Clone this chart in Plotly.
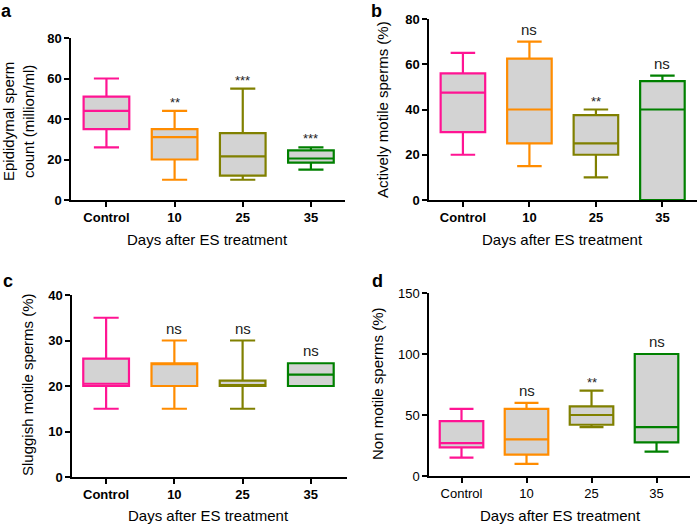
import plotly.graph_objects as go

# ---- data ----
GROUPS = ['Control', '10', '25', '35']
COLORS = ['#FF1493', '#FF8C00', '#808000', '#008000']

# panel a: epididymal sperm count (million/ml)
a_low = [26, 10, 10, 15]
a_q1 = [35, 20, 12, 18.5]
a_med = [44, 31, 21.5, 20.5]
a_q3 = [51, 35, 33, 24.5]
a_high = [60, 44, 55, 26]
a_sig = ['', '**', '***', '***']

# panel b: actively motile sperms (%)
b_low = [20, 15, 10, 0]
b_q1 = [30, 25, 20, 0]
b_med = [47.5, 40, 25, 40]
b_q3 = [56, 62.5, 37.5, 52.5]
b_high = [65, 70, 40, 55]
b_sig = ['', 'ns', '**', 'ns']

# panel c: sluggish motile sperms (%)
c_low = [15, 15, 15, 20]
c_q1 = [20, 20, 20, 20]
c_med = [20.5, 25, 20, 22.5]
c_q3 = [26, 25, 21.2, 25]
c_high = [35, 30, 30, 25]
c_sig = ['', 'ns', 'ns', 'ns']

# panel d: non motile sperms (%)
d_low = [15, 10, 40, 20]
d_q1 = [23.5, 17.5, 42, 27.5]
d_med = [27, 30, 50, 40]
d_q3 = [45, 55, 57, 100]
d_high = [55, 60, 70, 100]
d_sig = ['', 'ns', '**', 'ns']

FONT = 'Arial, Liberation Sans, sans-serif'
W, H = 697, 525

fig = go.Figure()


def add_panel(n, low, q1, med, q3, high, sig, xdom, ydom, xrange, yrange, dtick, bold=True):
    xa = 'x' if n == 1 else f'x{n}'
    ya = 'y' if n == 1 else f'y{n}'
    for i, g in enumerate(GROUPS):
        fig.add_trace(go.Box(
            x=[g], q1=[q1[i]], median=[med[i]], q3=[q3[i]],
            lowerfence=[low[i]], upperfence=[high[i]],
            fillcolor='#D3D3D3', line=dict(color=COLORS[i], width=2.2),
            width=0.67, whiskerwidth=0.55, boxpoints=False,
            showlegend=False, hoverinfo='skip', xaxis=xa, yaxis=ya))
        if sig[i]:
            star = sig[i].startswith('*')
            # category axis: position annotations by category index
            fig.add_annotation(
                x=i, y=high[i], xref=xa, yref=ya, text=sig[i],
                showarrow=False, yanchor='bottom',
                yshift=-1 if star else 2,
                font=dict(size=13 if star else 15, color='#222', family=FONT))
    key = '' if n == 1 else str(n)
    tf = dict(size=13, color='black', family=FONT, weight='bold' if bold else 'normal')
    axis = dict(showline=True, linecolor='black', linewidth=1.5, ticks='outside',
                ticklen=5, tickwidth=1.5, tickcolor='black', showgrid=False,
                zeroline=False, tickfont=tf, automargin=False)
    fig.update_layout(**{
        f'xaxis{key}': dict(axis, domain=xdom, range=xrange, type='category',
                            anchor=ya),
        f'yaxis{key}': dict(axis, domain=ydom, range=yrange, dtick=dtick,
                            anchor=xa),
    })


add_panel(1, a_low, a_q1, a_med, a_q3, a_high, a_sig,
          [71 / W, 345 / W], [1 - 200 / H, 1 - 38 / H], [-0.52, 3.5], [0, 80], 20)
add_panel(2, b_low, b_q1, b_med, b_q3, b_high, b_sig,
          [429 / W, 1.0], [1 - 200 / H, 1 - 19 / H], [-0.51, 3.52], [0, 80], 20)
add_panel(3, c_low, c_q1, c_med, c_q3, c_high, c_sig,
          [72 / W, 347 / W], [1 - 477 / H, 1 - 295 / H], [-0.5, 3.53], [0, 40], 10)
add_panel(4, d_low, d_q1, d_med, d_q3, d_high, d_sig,
          [429 / W, 690 / W], [1 - 476 / H, 1 - 293 / H], [-0.5, 3.515], [0, 150], 50,
          bold=False)


def px_note(x, y, text, size=15, angle=0, bold=False):
    fig.add_annotation(x=x / W, y=1 - y / H, xref='paper', yref='paper',
                       text=text, showarrow=False, textangle=angle,
                       xanchor='center', yanchor='middle',
                       font=dict(size=size, color='black', family=FONT,
                                 weight='bold' if bold else 'normal'))


# axis titles
px_note(207, 239, 'Days after ES treatment')
px_note(562, 239, 'Days after ES treatment')
px_note(208, 515, 'Days after ES treatment')
px_note(560, 515, 'Days after ES treatment')
px_note(19, 122, 'Epididymal sperm<br>count (million/ml)', angle=-90)
px_note(383, 109, 'Actively motile sperms (%)', angle=-90)
px_note(27, 385, 'Sluggish motile sperms (%)', angle=-90)
px_note(377, 384, 'Non motile sperms (%)', angle=-90)

# panel letters
px_note(7, 11, 'a', size=18, bold=True)
px_note(376, 11, 'b', size=18, bold=True)
px_note(8, 281, 'c', size=18, bold=True)
px_note(377, 281, 'd', size=18, bold=True)

fig.update_layout(width=W, height=H, margin=dict(l=0, r=0, t=0, b=0),
                  plot_bgcolor='white', paper_bgcolor='white',
                  boxmode='overlay', font=dict(family=FONT))

# drop the default page margin so the figure sits at the window's corner
fig.write_html("out.html", config={'displayModeBar': False},
               post_script="document.body.style.margin='0px';")
